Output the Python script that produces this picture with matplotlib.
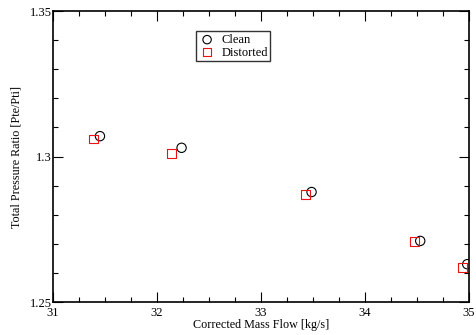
import matplotlib
matplotlib.use("Agg")
import matplotlib.pyplot as plt
from matplotlib.ticker import MultipleLocator

plt.rcParams['font.family'] = ['Liberation Serif', 'DejaVu Serif']

clean_x = [31.452, 32.237, 33.487, 34.532, 34.984]
clean_y = [1.307, 1.303, 1.2878, 1.271, 1.263]
dist_x = [31.391, 32.138, 33.430, 34.480, 34.935]
dist_y = [1.306, 1.301, 1.2869, 1.2709, 1.2618]

xticks = [31, 32, 33, 34, 35]
xticklabels = ['31', '32', '33', '34', '35']
yticks = [1.25, 1.3, 1.35]
yticklabels = ['1.25', '1.3', '1.35']

fig = plt.figure(figsize=(4.77, 3.35), dpi=100)
ax = fig.add_axes([0.111, 0.0985, 0.872, 0.8685])

ax.scatter(clean_x, clean_y, s=45, marker='o', facecolors='none',
           edgecolors='black', linewidths=0.8, label='Clean', zorder=3)
ax.scatter(dist_x, dist_y, s=40, marker='s', facecolors='none',
           edgecolors='#ee1111', linewidths=0.8, label='Distorted', zorder=3)

ax.set_xlim(31, 35)
ax.set_ylim(1.25, 1.35)
ax.set_xticks(xticks)
ax.set_xticklabels(xticklabels)
ax.set_yticks(yticks)
ax.set_yticklabels(yticklabels)
ax.xaxis.set_minor_locator(MultipleLocator(0.25))
ax.yaxis.set_minor_locator(MultipleLocator(0.01))
ax.tick_params(which='both', direction='in', top=True, right=True,
               labelsize=9, width=0.8)
ax.tick_params(axis='x', which='major', pad=3.5)
ax.tick_params(axis='y', which='major', pad=1)
ax.tick_params(which='major', length=7)
ax.tick_params(which='minor', length=3.5)
for sp in ax.spines.values():
    sp.set_linewidth(1.2)

ax.set_xlabel('Corrected Mass Flow [kg/s]', fontsize=8.7, labelpad=0)
ax.set_ylabel('Total Pressure Ratio [Pte/Pti]', fontsize=8.7, labelpad=5)

leg = ax.legend(loc='upper left', bbox_to_anchor=(0.345, 0.93), fontsize=9,
                frameon=True, fancybox=False, edgecolor='black',
                handletextpad=0.5, borderpad=0.2, labelspacing=0.05,
                markerscale=0.9, handlelength=1.3, borderaxespad=0)
leg.get_frame().set_linewidth(1.0)

fig.savefig('out.png', dpi=100)
